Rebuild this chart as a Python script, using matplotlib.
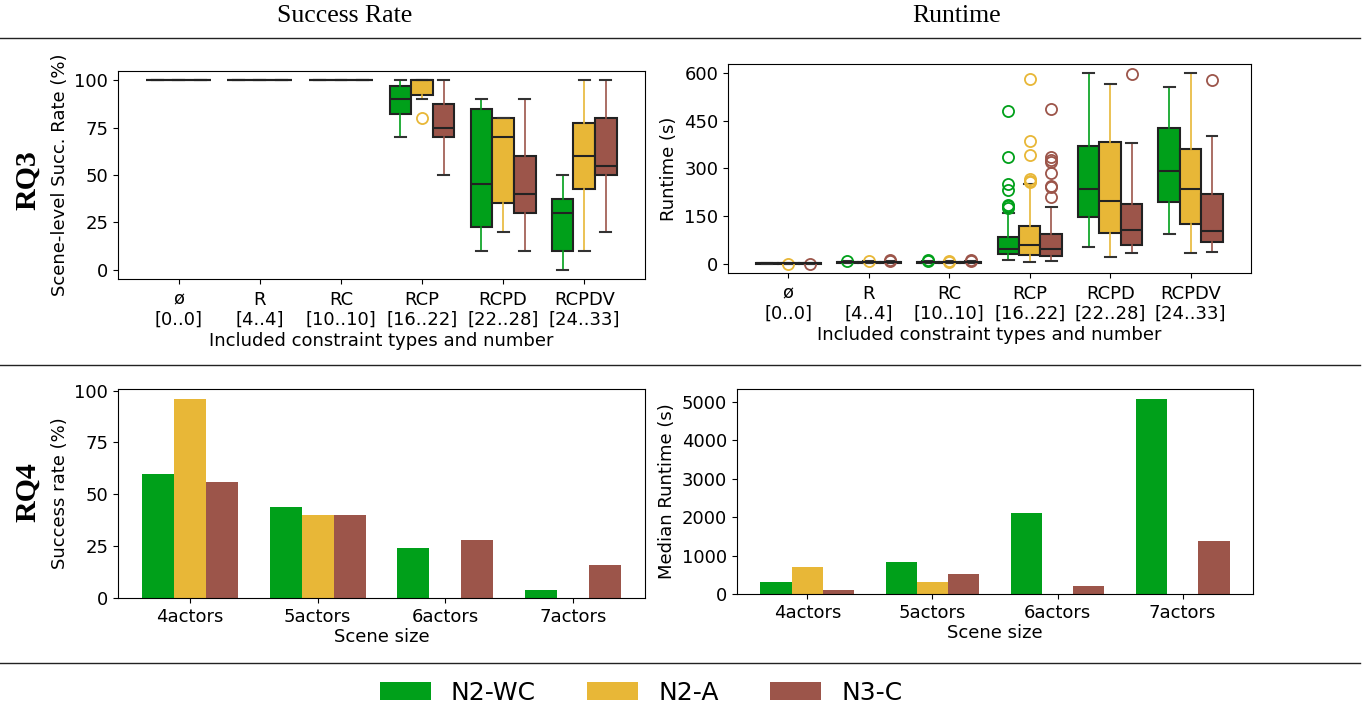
import numpy as np
import matplotlib
matplotlib.use('Agg')
import matplotlib.pyplot as plt
from matplotlib.lines import Line2D
from matplotlib.patches import Patch

W, H = 1370, 708

methods = ['N2-WC', 'N2-A', 'N3-C']
colors = ['#00A01A', '#E8B737', '#9C554A']

constraint_labels = ['ø\n[0..0]', 'R\n[4..4]', 'RC\n[10..10]', 'RCP\n[16..22]',
                     'RCPD\n[22..28]', 'RCPDV\n[24..33]']

# success rate box stats per method: (whislo, q1, med, q3, whishi, fliers)
succ_wc = [(100, 100, 100, 100, 100, []), (100, 100, 100, 100, 100, []),
           (100, 100, 100, 100, 100, []), (70, 82, 90, 97, 100, []),
           (10, 22.5, 45, 85, 90, []), (0, 10, 30, 37.5, 50, [])]
succ_a = [(100, 100, 100, 100, 100, []), (100, 100, 100, 100, 100, []),
          (100, 100, 100, 100, 100, []), (90, 92.5, 100, 100, 100, [80]),
          (20, 35, 70, 80, 80, []), (10, 42.5, 60, 77.5, 100, [])]
succ_c = [(100, 100, 100, 100, 100, []), (100, 100, 100, 100, 100, []),
          (100, 100, 100, 100, 100, []), (50, 70, 75, 87.5, 100, []),
          (10, 30, 40, 60, 90, []), (20, 50, 55, 80, 100, [])]

# runtime box stats (s)
rt_wc = [(0, 0, 0.5, 1, 1, []), (2, 3, 4, 6, 7, [9]),
         (2, 3, 4, 6, 7, [10, 8]), (10, 30, 47, 82, 160, [480, 335, 250, 230, 185, 180, 175]),
         (52, 145, 235, 370, 598, []), (92, 195, 292, 425, 557, [])]
rt_a = [(0, 0, 0.5, 1, 1, [0]), (2, 3, 4, 6, 7, [8]),
        (2, 3, 4, 6, 7, [8, 6]), (5, 28, 57, 118, 250, [580, 385, 340, 265, 260, 255]),
        (22, 95, 197, 383, 565, []), (32, 123, 233, 360, 598, [])]
rt_c = [(0, 0, 0.5, 1, 1, [0]), (2, 3, 4, 6, 7, [10, 8]),
        (2, 3, 4, 6, 7, [11, 9]),
        (8, 25, 45, 93, 178, [485, 335, 325, 318, 285, 245, 240, 208]),
        (33, 58, 107, 187, 378, [595]), (35, 67, 103, 220, 402, [578])]

scene_sizes = ['4actors', '5actors', '6actors', '7actors']
rate_wc = [60, 44, 24, 4]
rate_a = [96, 40, 0, 0]
rate_c = [56, 40, 28, 16]
med_wc = [320, 840, 2110, 5080]
med_a = [710, 310, 0, 0]
med_c = [110, 530, 210, 1390]

plt.rcParams['font.size'] = 13


def px_axes(fig, x0, y0, x1, y1):
    return fig.add_axes([x0 / W, 1 - y1 / H, (x1 - x0) / W, (y1 - y0) / H])


def draw_boxes(ax, series):
    n = len(series)
    bw = 0.8 / n
    for k, (data, c) in enumerate(zip(series, colors)):
        stats = [dict(whislo=s[0], q1=s[1], med=s[2], q3=s[3], whishi=s[4], fliers=s[5])
                 for s in data]
        pos = np.arange(len(data)) + (k - (n - 1) / 2) * bw
        ax.bxp(stats, positions=pos, widths=bw, patch_artist=True, manage_ticks=False,
               boxprops=dict(facecolor=c, edgecolor='#222222', linewidth=1.5),
               medianprops=dict(color='#222222', linewidth=1.5),
               whiskerprops=dict(color=c, linewidth=1.2),
               capprops=dict(color='#333333', linewidth=1.5),
               flierprops=dict(marker='o', markerfacecolor='none', markeredgecolor=c,
                               markersize=8, markeredgewidth=1.3))
    ax.set_xticks(np.arange(len(constraint_labels)))
    ax.set_xticklabels(constraint_labels, linespacing=1.15)
    ax.tick_params(axis='x', pad=5)
    ax.set_xlim(-0.75, len(constraint_labels) - 0.25)
    ax.set_xlabel('Included constraint types and number', labelpad=2)


def draw_bars(ax, series):
    x = np.arange(len(scene_sizes))
    for k, (vals, c) in enumerate(zip(series, colors)):
        ax.bar(x + (k - 1) * 0.25, vals, 0.25, color=c)
    ax.set_xticks(x)
    ax.set_xticklabels(scene_sizes)
    ax.set_xlabel('Scene size', labelpad=2)


fig = plt.figure(figsize=(W / 100, H / 100), dpi=100)

ax1 = px_axes(fig, 118, 71, 645, 279)
draw_boxes(ax1, [succ_wc, succ_a, succ_c])
ax1.set_yticks([0, 25, 50, 75, 100])
ax1.set_ylim(-5, 105)
ax1.set_ylabel('Scene-level Succ. Rate (%)')

ax2 = px_axes(fig, 728, 64, 1251, 273)
draw_boxes(ax2, [rt_wc, rt_a, rt_c])
ax2.set_yticks([0, 150, 300, 450, 600])
ax2.set_ylabel('Runtime (s)')

ax3 = px_axes(fig, 118, 389, 645, 598)
draw_bars(ax3, [rate_wc, rate_a, rate_c])
ax3.set_yticks([0, 25, 50, 75, 100])
ax3.set_ylabel('Success rate (%)')

ax4 = px_axes(fig, 737, 389, 1253, 594)
draw_bars(ax4, [med_wc, med_a, med_c])
ax4.set_yticks([0, 1000, 2000, 3000, 4000, 5000])
ax4.set_ylabel('Median Runtime (s)')

serif = ['Liberation Serif', 'DejaVu Serif']
fig.text(345 / W, 1 - 16 / H, 'Success Rate', family=serif, fontsize=18.5, ha='center', va='center')
fig.text(957 / W, 1 - 16 / H, 'Runtime', family=serif, fontsize=18.5, ha='center', va='center')
fig.text(28 / W, 1 - 180 / H, 'RQ3', family=serif, fontsize=21.5, fontweight='bold',
         rotation=90, ha='center', va='center')
fig.text(28 / W, 1 - 492 / H, 'RQ4', family=serif, fontsize=21.5, fontweight='bold',
         rotation=90, ha='center', va='center')

for y in [38, 365, 663]:
    fig.add_artist(Line2D([0, 1360 / W], [1 - y / H, 1 - y / H], color='#222222', linewidth=1))

handles = [Patch(facecolor=c, label=m) for m, c in zip(methods, colors)]
fig.legend(handles=handles, loc='center', bbox_to_anchor=(641 / W, 1 - 693 / H), ncol=3,
           frameon=False, fontsize=18, handlelength=2.05, handleheight=0.72,
           columnspacing=2.05, handletextpad=0.8)

fig.savefig('out.png', dpi=100)
